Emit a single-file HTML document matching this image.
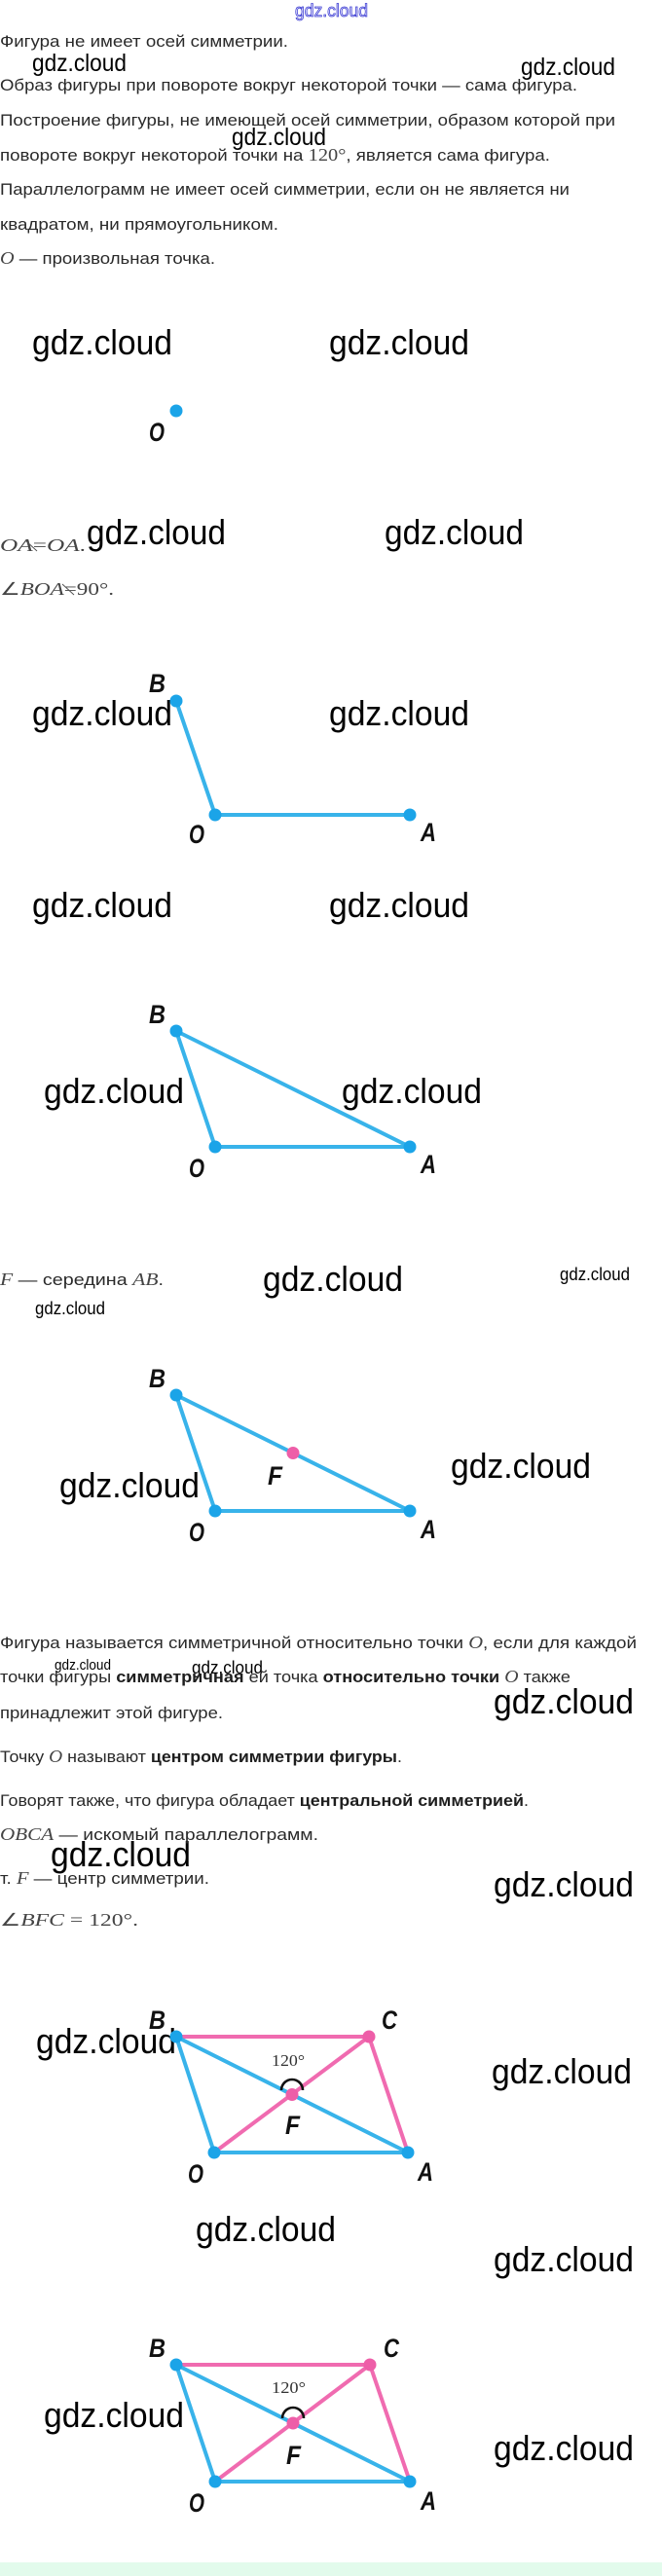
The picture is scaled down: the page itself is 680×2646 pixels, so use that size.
<!DOCTYPE html>
<html><head><meta charset="utf-8"><style>
html,body{margin:0;padding:0;background:#fff;}
svg{display:block;}
.t{font-family:"Liberation Sans",sans-serif;font-size:16.5px;fill:#2a2a2a;}
.b{font-weight:bold;fill:#1e1e1e;}
.m{font-family:"Liberation Serif",serif;font-style:italic;fill:#444;font-size:18px;}
.mu{font-family:"Liberation Serif",serif;fill:#444;font-size:18px;}
.w{font-family:"Liberation Sans",sans-serif;fill:#000;}
.lb{font-family:"Liberation Sans",sans-serif;font-style:italic;font-weight:bold;font-size:27px;fill:#111;}
.bl{stroke:#38b3ea;stroke-width:4;stroke-linecap:round;fill:none;}
.pk{stroke:#f06bb0;stroke-width:4;stroke-linecap:round;fill:none;}
.bd{fill:#1ba4e8;}
.pd{fill:#ee5ea8;}
</style></head><body>
<svg width="680" height="2646" viewBox="0 0 680 2646" xmlns="http://www.w3.org/2000/svg">
<rect x="0" y="0" width="680" height="2646" fill="#fff"/>

<!-- header -->
<text x="303" y="17" font-family="Liberation Sans,sans-serif" font-size="18" fill="#eef" stroke="#3c3cd2" stroke-width="0.8" textLength="75" lengthAdjust="spacingAndGlyphs">gdz.cloud</text>

<!-- top text -->
<text class="t" x="0" y="48" textLength="296" lengthAdjust="spacingAndGlyphs">Фигура не имеет осей симметрии.</text>
<text class="t" x="0" y="93" textLength="593" lengthAdjust="spacingAndGlyphs">Образ фигуры при повороте вокруг некоторой точки — сама фигура.</text>
<text class="t" x="0" y="129" textLength="632" lengthAdjust="spacingAndGlyphs">Построение фигуры, не имеющей осей симметрии, образом которой при</text>
<text class="t" x="0" y="165" textLength="565" lengthAdjust="spacingAndGlyphs">повороте вокруг некоторой точки на <tspan class="mu">120°</tspan>, является сама фигура.</text>
<text class="t" x="0" y="200" textLength="585" lengthAdjust="spacingAndGlyphs">Параллелограмм не имеет осей симметрии, если он не является ни</text>
<text class="t" x="0" y="236" textLength="286" lengthAdjust="spacingAndGlyphs">квадратом, ни прямоугольником.</text>
<text class="t" x="0" y="271" textLength="221" lengthAdjust="spacingAndGlyphs"><tspan class="m">O</tspan> — произвольная точка.</text>

<!-- small watermarks top -->
<text class="w" x="33" y="73" font-size="25" textLength="97" lengthAdjust="spacingAndGlyphs">gdz.cloud</text>
<text class="w" x="535" y="77" font-size="25" textLength="97" lengthAdjust="spacingAndGlyphs">gdz.cloud</text>
<text class="w" x="238" y="149" font-size="25" textLength="97" lengthAdjust="spacingAndGlyphs">gdz.cloud</text>

<!-- big watermarks -->
<g class="w" font-size="36">
<text x="33" y="364" textLength="144" lengthAdjust="spacingAndGlyphs">gdz.cloud</text>
<text x="338" y="364" textLength="144" lengthAdjust="spacingAndGlyphs">gdz.cloud</text>
<text x="89" y="559" textLength="143" lengthAdjust="spacingAndGlyphs">gdz.cloud</text>
<text x="395" y="559" textLength="143" lengthAdjust="spacingAndGlyphs">gdz.cloud</text>
<text x="33" y="745" textLength="144" lengthAdjust="spacingAndGlyphs">gdz.cloud</text>
<text x="338" y="745" textLength="144" lengthAdjust="spacingAndGlyphs">gdz.cloud</text>
<text x="33" y="942" textLength="144" lengthAdjust="spacingAndGlyphs">gdz.cloud</text>
<text x="338" y="942" textLength="144" lengthAdjust="spacingAndGlyphs">gdz.cloud</text>
<text x="45" y="1133" textLength="144" lengthAdjust="spacingAndGlyphs">gdz.cloud</text>
<text x="351" y="1133" textLength="144" lengthAdjust="spacingAndGlyphs">gdz.cloud</text>
<text x="270" y="1326" textLength="144" lengthAdjust="spacingAndGlyphs">gdz.cloud</text>
<text x="61" y="1538" textLength="144" lengthAdjust="spacingAndGlyphs">gdz.cloud</text>
<text x="463" y="1518" textLength="144" lengthAdjust="spacingAndGlyphs">gdz.cloud</text>
<text x="507" y="1760" textLength="144" lengthAdjust="spacingAndGlyphs">gdz.cloud</text>
<text x="52" y="1917" textLength="144" lengthAdjust="spacingAndGlyphs">gdz.cloud</text>
<text x="507" y="1948" textLength="144" lengthAdjust="spacingAndGlyphs">gdz.cloud</text>
<text x="37" y="2109" textLength="144" lengthAdjust="spacingAndGlyphs">gdz.cloud</text>
<text x="505" y="2140" textLength="144" lengthAdjust="spacingAndGlyphs">gdz.cloud</text>
<text x="201" y="2302" textLength="144" lengthAdjust="spacingAndGlyphs">gdz.cloud</text>
<text x="507" y="2333" textLength="144" lengthAdjust="spacingAndGlyphs">gdz.cloud</text>
<text x="45" y="2493" textLength="144" lengthAdjust="spacingAndGlyphs">gdz.cloud</text>
<text x="507" y="2527" textLength="144" lengthAdjust="spacingAndGlyphs">gdz.cloud</text>
</g>
<text class="w" x="575" y="1315" font-size="18" textLength="72" lengthAdjust="spacingAndGlyphs">gdz.cloud</text>
<text class="w" x="36" y="1350" font-size="18" textLength="72" lengthAdjust="spacingAndGlyphs">gdz.cloud</text>
<text class="w" x="56" y="1715" font-size="15" textLength="58" lengthAdjust="spacingAndGlyphs">gdz.cloud</text>
<text class="w" x="197" y="1719" font-size="18" textLength="73" lengthAdjust="spacingAndGlyphs">gdz.cloud</text>

<!-- single point O -->
<circle class="bd" cx="181" cy="422" r="6.5"/>
<text class="lb" x="153" y="453" textLength="16" lengthAdjust="spacingAndGlyphs">O</text>

<!-- OA = OA -->
<text class="m" x="0" y="566" font-size="20" fill="#555" textLength="88" lengthAdjust="spacingAndGlyphs">OA<tspan font-style="normal">=</tspan>OA<tspan font-style="normal">.</tspan></text>
<line x1="26" y1="555" x2="38" y2="566" stroke="#555" stroke-width="1"/>
<text class="m" x="0" y="611" font-size="19" fill="#555" textLength="117" lengthAdjust="spacingAndGlyphs"><tspan font-style="normal">∠</tspan>BOA<tspan font-style="normal">=90°.</tspan></text>
<line x1="64" y1="600" x2="76" y2="611" stroke="#555" stroke-width="1"/>

<!-- diagram 1 -->
<line class="bl" x1="181" y1="720" x2="221" y2="837"/>
<line class="bl" x1="221" y1="837" x2="421" y2="837"/>
<circle class="bd" cx="181" cy="720" r="6.5"/>
<circle class="bd" cx="221" cy="837" r="6.5"/>
<circle class="bd" cx="421" cy="837" r="6.5"/>
<text class="lb" x="153" y="711" textLength="17" lengthAdjust="spacingAndGlyphs">B</text>
<text class="lb" x="194" y="866" textLength="16" lengthAdjust="spacingAndGlyphs">O</text>
<text class="lb" x="432" y="864" textLength="16" lengthAdjust="spacingAndGlyphs">A</text>

<!-- triangle -->
<line class="bl" x1="181" y1="1059" x2="221" y2="1178"/>
<line class="bl" x1="221" y1="1178" x2="421" y2="1178"/>
<line class="bl" x1="181" y1="1059" x2="421" y2="1178"/>
<circle class="bd" cx="181" cy="1059" r="6.5"/>
<circle class="bd" cx="221" cy="1178" r="6.5"/>
<circle class="bd" cx="421" cy="1178" r="6.5"/>
<text class="lb" x="153" y="1051" textLength="17" lengthAdjust="spacingAndGlyphs">B</text>
<text class="lb" x="194" y="1209" textLength="16" lengthAdjust="spacingAndGlyphs">O</text>
<text class="lb" x="432" y="1205" textLength="16" lengthAdjust="spacingAndGlyphs">A</text>

<!-- F midpoint -->
<text class="t" x="0" y="1320" font-size="15" textLength="168" lengthAdjust="spacingAndGlyphs"><tspan class="m">F</tspan> — середина <tspan class="m">AB</tspan>.</text>

<!-- triangle F -->
<line class="bl" x1="181" y1="1433" x2="221" y2="1552"/>
<line class="bl" x1="221" y1="1552" x2="421" y2="1552"/>
<line class="bl" x1="181" y1="1433" x2="421" y2="1552"/>
<circle class="bd" cx="181" cy="1433" r="6.5"/>
<circle class="bd" cx="221" cy="1552" r="6.5"/>
<circle class="bd" cx="421" cy="1552" r="6.5"/>
<circle class="pd" cx="301" cy="1492.5" r="6.5"/>
<text class="lb" x="153" y="1425" textLength="17" lengthAdjust="spacingAndGlyphs">B</text>
<text class="lb" x="275" y="1525" textLength="15" lengthAdjust="spacingAndGlyphs">F</text>
<text class="lb" x="194" y="1583" textLength="16" lengthAdjust="spacingAndGlyphs">O</text>
<text class="lb" x="432" y="1580" textLength="16" lengthAdjust="spacingAndGlyphs">A</text>

<!-- definition text -->
<text class="t" x="0" y="1693" textLength="654" lengthAdjust="spacingAndGlyphs">Фигура называется симметричной относительно точки <tspan class="m">O</tspan>, если для каждой</text>
<text class="t" x="0" y="1728" textLength="586" lengthAdjust="spacingAndGlyphs">точки фигуры <tspan class="b">симметричная</tspan> ей точка <tspan class="b">относительно точки</tspan> <tspan class="m">O</tspan> также</text>
<text class="t" x="0" y="1765" textLength="229" lengthAdjust="spacingAndGlyphs">принадлежит этой фигуре.</text>
<text class="t" x="0" y="1810" textLength="413" lengthAdjust="spacingAndGlyphs">Точку <tspan class="m">O</tspan> называют <tspan class="b">центром симметрии фигуры</tspan>.</text>
<text class="t" x="0" y="1855" textLength="543" lengthAdjust="spacingAndGlyphs">Говорят также, что фигура обладает <tspan class="b">центральной симметрией</tspan>.</text>
<text class="t" x="0" y="1890" textLength="327" lengthAdjust="spacingAndGlyphs"><tspan class="m">OBCA</tspan> — искомый параллелограмм.</text>
<text class="t" x="0" y="1935" textLength="215" lengthAdjust="spacingAndGlyphs">т. <tspan class="m">F</tspan> — центр симметрии.</text>
<text class="t" x="0" y="1978" textLength="142" lengthAdjust="spacingAndGlyphs"><tspan class="mu">∠</tspan><tspan class="m">BFC</tspan><tspan class="mu"> = 120°.</tspan></text>

<!-- parallelogram 1 -->
<line class="pk" x1="181" y1="2092" x2="379" y2="2092"/>
<line class="pk" x1="379" y1="2092" x2="419" y2="2211"/>
<line class="pk" x1="220" y1="2211" x2="379" y2="2092"/>
<line class="bl" x1="181" y1="2092" x2="220" y2="2211"/>
<line class="bl" x1="220" y1="2211" x2="419" y2="2211"/>
<line class="bl" x1="181" y1="2092" x2="419" y2="2211"/>
<path d="M289,2147 A11,11 0 0 1 311,2147" fill="none" stroke="#111" stroke-width="2.6"/>
<circle class="bd" cx="181" cy="2092" r="6.5"/>
<circle class="bd" cx="220" cy="2211" r="6.5"/>
<circle class="bd" cx="419" cy="2211" r="6.5"/>
<circle class="pd" cx="379" cy="2092" r="6.5"/>
<circle class="pd" cx="300" cy="2151.5" r="6.5"/>
<text x="279" y="2122" font-family="Liberation Serif,serif" font-size="17" fill="#333" textLength="34" lengthAdjust="spacingAndGlyphs">120°</text>
<text class="lb" x="153" y="2084" textLength="17" lengthAdjust="spacingAndGlyphs">B</text>
<text class="lb" x="392" y="2084" textLength="16" lengthAdjust="spacingAndGlyphs">C</text>
<text class="lb" x="293" y="2192" textLength="15" lengthAdjust="spacingAndGlyphs">F</text>
<text class="lb" x="193" y="2242" textLength="16" lengthAdjust="spacingAndGlyphs">O</text>
<text class="lb" x="429" y="2240" textLength="16" lengthAdjust="spacingAndGlyphs">A</text>

<!-- parallelogram 2 -->
<line class="pk" x1="181" y1="2429" x2="380" y2="2429"/>
<line class="pk" x1="380" y1="2429" x2="421" y2="2549"/>
<line class="pk" x1="221" y1="2549" x2="380" y2="2429"/>
<line class="bl" x1="181" y1="2429" x2="221" y2="2549"/>
<line class="bl" x1="221" y1="2549" x2="421" y2="2549"/>
<line class="bl" x1="181" y1="2429" x2="421" y2="2549"/>
<path d="M290,2484 A11,11 0 0 1 312,2484" fill="none" stroke="#111" stroke-width="2.6"/>
<circle class="bd" cx="181" cy="2429" r="6.5"/>
<circle class="bd" cx="221" cy="2549" r="6.5"/>
<circle class="bd" cx="421" cy="2549" r="6.5"/>
<circle class="pd" cx="380" cy="2429" r="6.5"/>
<circle class="pd" cx="301" cy="2489" r="6.5"/>
<text x="279" y="2458" font-family="Liberation Serif,serif" font-size="17" fill="#333" textLength="35" lengthAdjust="spacingAndGlyphs">120°</text>
<text class="lb" x="153" y="2421" textLength="17" lengthAdjust="spacingAndGlyphs">B</text>
<text class="lb" x="394" y="2421" textLength="16" lengthAdjust="spacingAndGlyphs">C</text>
<text class="lb" x="294" y="2531" textLength="15" lengthAdjust="spacingAndGlyphs">F</text>
<text class="lb" x="194" y="2580" textLength="16" lengthAdjust="spacingAndGlyphs">O</text>
<text class="lb" x="432" y="2578" textLength="16" lengthAdjust="spacingAndGlyphs">A</text>

<!-- bottom bar -->
<rect x="0" y="2632" width="680" height="14" fill="#e2fbec"/>
</svg>
</body></html>
